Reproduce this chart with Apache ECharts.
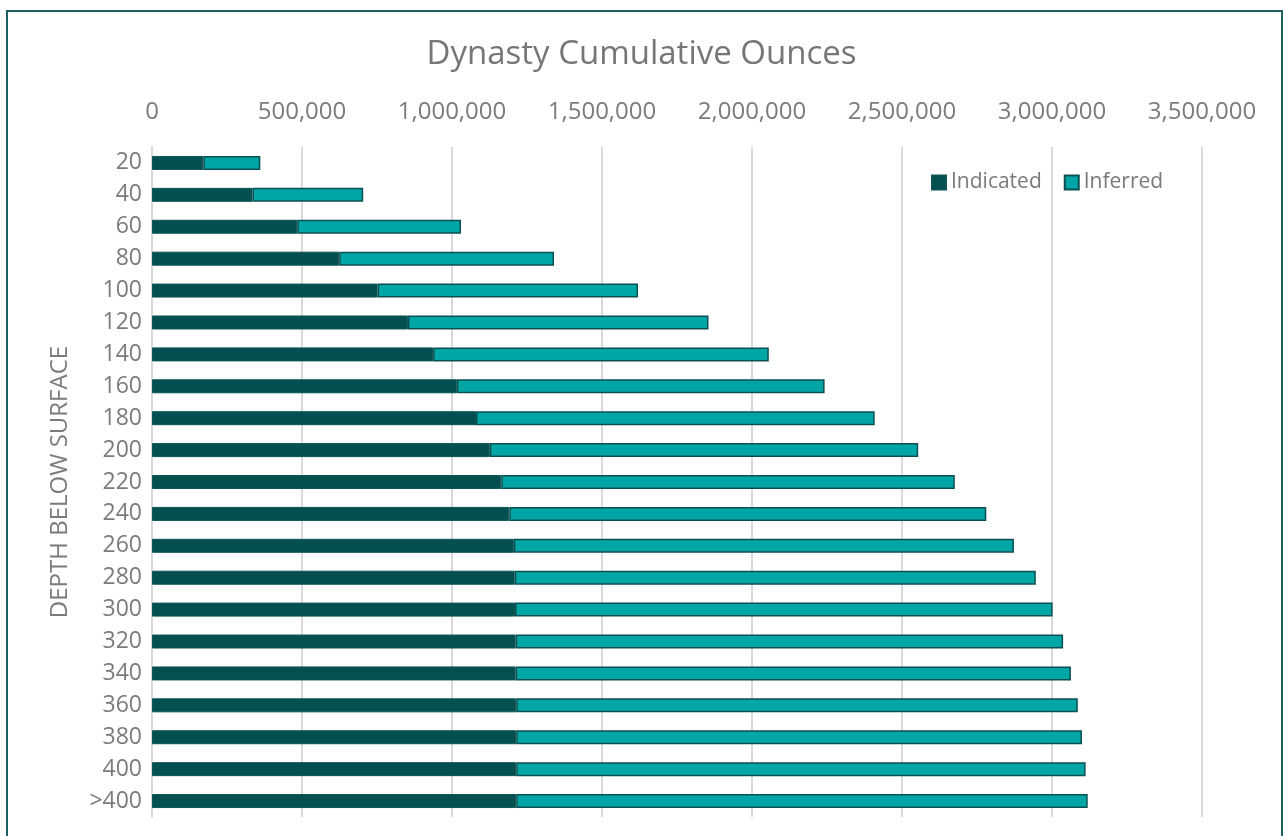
<!DOCTYPE html>
<html>
<head>
<meta charset="utf-8">
<script src="https://cdn.jsdelivr.net/npm/echarts@6/dist/echarts.min.js"></script>
<style>
html,body{margin:0;padding:0;background:#fff;}
#chart{width:1283px;height:836px;}
</style>
</head>
<body>
<div id="chart"></div>
<script>
const categories = ['20','40','60','80','100','120','140','160','180','200','220','240','260','280','300','320','340','360','380','400','>400'];
const indicated = [171000,335000,484000,624000,752000,853000,937000,1016000,1080000,1126000,1164000,1191000,1206000,1209000,1210000,1212000,1212000,1214000,1214000,1214000,1214000];
const totals = [361000,704000,1030000,1340000,1620000,1855000,2056000,2242000,2409000,2554000,2676000,2781000,2873000,2946000,3002000,3037000,3063000,3086000,3100000,3112000,3119000];
const inferred = totals.map((t,i)=>t-indicated[i]);
const xTicks = [0,500000,1000000,1500000,2000000,2500000,3000000,3500000];

const FONT = '"Open Sans", "Noto Sans", sans-serif';
const chart = echarts.init(document.getElementById('chart'), null, {renderer:'canvas'});
chart.setOption({
  animation:false,
  textStyle:{fontFamily:FONT},
  title:{
    text:'Dynasty Cumulative Ounces',
    left:'center', top:33,
    textStyle:{fontFamily:FONT, fontSize:33, fontWeight:'normal', color:'#767676'}
  },
  graphic:[{
    type:'rect', shape:{x:7,y:11,width:1275,height:840},
    style:{fill:'none', stroke:'#1d5f60', lineWidth:2}, silent:true, z:-1
  }],
  legend:{
    left:926, top:167,
    itemWidth:14, itemHeight:14, itemGap:22,
    icon:'rect',
    textStyle:{fontFamily:FONT, fontSize:21, color:'#7a7a7a'},
    data:['Indicated','Inferred']
  },
  grid:{left:152, right:81, top:147, bottom:19, containLabel:false},
  xAxis:{
    type:'value', position:'top', min:0, max:3500000, interval:500000,
    axisLine:{show:false}, axisTick:{show:false},
    splitLine:{show:true, lineStyle:{color:'#d9d9d9', width:2}},
    axisLabel:{
      margin:23, color:'#7b7b7b', fontSize:24, fontFamily:FONT,
      formatter:v=>v.toLocaleString('en-US')
    }
  },
  yAxis:{
    type:'category', data:categories, inverse:true,
    name:'DEPTH BELOW SURFACE', nameLocation:'middle', nameGap:80, nameRotate:90,
    nameTextStyle:{fontFamily:FONT, fontSize:24, color:'#7b7b7b'},
    axisLine:{show:true, lineStyle:{color:'#d9d9d9', width:2}},
    axisTick:{show:false},
    axisLabel:{margin:10, color:'#7b7b7b', fontSize:23, fontFamily:FONT}
  },
  series:[
    {
      name:'Indicated', type:'bar', stack:'total', data:indicated,
      barWidth:14,
      itemStyle:{color:'#044f50', borderColor:'#0d5557', borderWidth:1}
    },
    {
      name:'Inferred', type:'bar', stack:'total', data:inferred,
      barWidth:14,
      itemStyle:{color:'#00a6a6', borderColor:'#0c4f52', borderWidth:1.5}
    }
  ]
});
</script>
</body>
</html>
